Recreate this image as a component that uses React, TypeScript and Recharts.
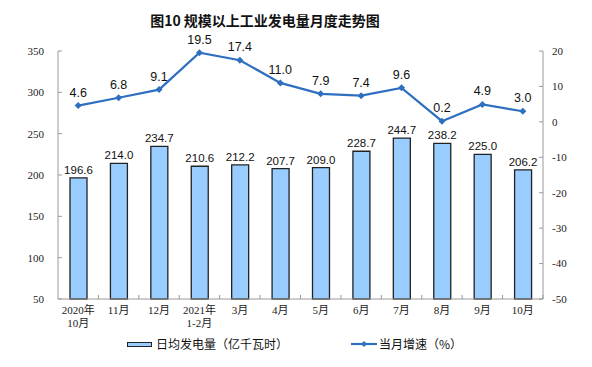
import React from "react";
import {
  ComposedChart,
  Bar,
  Line,
  XAxis,
  YAxis,
  LabelList,
} from "recharts";

const MONTHS = [
  "2020年|10月",
  "11月",
  "12月",
  "2021年|1-2月",
  "3月",
  "4月",
  "5月",
  "6月",
  "7月",
  "8月",
  "9月",
  "10月",
];
const DAILY_OUTPUT = [196.6, 214.0, 234.7, 210.6, 212.2, 207.7, 209.0, 228.7, 244.7, 238.2, 225.0, 206.2];
const GROWTH = [4.6, 6.8, 9.1, 19.5, 17.4, 11.0, 7.9, 7.4, 9.6, 0.2, 4.9, 3.0];
const LEFT_TICKS = [50, 100, 150, 200, 250, 300, 350];
const RIGHT_TICKS = [-50, -40, -30, -20, -10, 0, 10, 20];

const BAR_LABEL = "日均发电量（亿千瓦时）";
const LINE_LABEL = "当月增速（%）";
const TITLE = "图10 规模以上工业发电量月度走势图";

const AXIS_COLOR = "#9a9a9a";
const LINE_COLOR = "#2f6fbf";
const BAR_FILL = "#99ccff";
const SERIF = "'Liberation Serif', 'Noto Sans CJK SC', serif";
const SANS = "'Liberation Sans', Arial, sans-serif";
const CJK = "'Noto Sans CJK SC', sans-serif";

const data = MONTHS.map((m, i) => ({ month: m, output: DAILY_OUTPUT[i], growth: GROWTH[i] }));

function MonthTick(props: any) {
  const { x, y, payload, width, visibleTicksCount } = props;
  const lines = String(payload.value).split("|");
  const half = width / visibleTicksCount / 2;
  return (
    <g>
      <line x1={x + half} x2={x + half} y1={299} y2={295} stroke={AXIS_COLOR} />
      {lines.map((t, i) => (
        <text
          key={i}
          x={x}
          y={y + 7 + i * 13}
          textAnchor="middle"
          fontSize={11}
          fontFamily={SERIF}
          fill="#222"
        >
          {t}
        </text>
      ))}
    </g>
  );
}

function Diamond(props: any) {
  const { cx, cy } = props;
  if (cx == null || cy == null) return null;
  const r = 3.5;
  return (
    <polygon
      points={`${cx},${cy - r} ${cx + r},${cy} ${cx},${cy + r} ${cx - r},${cy}`}
      fill={LINE_COLOR}
    />
  );
}

export default function App() {
  return (
    <div style={{ position: "absolute", left: 0, top: 0, width: 592, height: 367, background: "#fff" }}>
      <div
        style={{
          position: "absolute",
          left: 0,
          width: 530,
          top: 10,
          textAlign: "center",
          fontFamily: CJK,
          fontSize: 14,
          fontWeight: 700,
          color: "#111",
          whiteSpace: "pre",
        }}
      >
        {TITLE}
      </div>
      <ComposedChart
        width={592}
        height={367}
        data={data}
        margin={{ top: 51, right: 0, left: 8, bottom: 28 }}
      >
        <XAxis
          dataKey="month"
          stroke={AXIS_COLOR}
          tickLine={false}
          interval={0}
          height={40}
          tick={<MonthTick />}
        />
        <YAxis
          yAxisId="left"
          width={50}
          domain={[50, 350]}
          ticks={LEFT_TICKS}
          interval={0}
          stroke={AXIS_COLOR}
          tickSize={-4}
          tickMargin={18}
          tick={{ fill: "#222", fontSize: 11, fontFamily: SERIF }}
        />
        <YAxis
          yAxisId="right"
          orientation="right"
          width={49}
          domain={[-50, 20]}
          ticks={RIGHT_TICKS}
          interval={0}
          stroke={AXIS_COLOR}
          tickSize={-4}
          tickMargin={13}
          tick={{ fill: "#222", fontSize: 11, fontFamily: SERIF }}
        />
        <Bar
          yAxisId="left"
          dataKey="output"
          fill={BAR_FILL}
          stroke="#222"
          strokeWidth={1.3}
          barSize={17}
          isAnimationActive={false}
        >
          <LabelList
            dataKey="output"
            position="top"
            offset={4}
            formatter={(v: any) => Number(v).toFixed(1)}
            style={{ fill: "#111", fontSize: 11.5, fontFamily: SANS }}
          />
        </Bar>
        <Line
          yAxisId="right"
          dataKey="growth"
          stroke={LINE_COLOR}
          strokeWidth={2.2}
          dot={<Diamond />}
          activeDot={false}
          isAnimationActive={false}
        >
          <LabelList
            dataKey="growth"
            position="top"
            offset={9}
            formatter={(v: any) => Number(v).toFixed(1)}
            style={{ fill: "#111", fontSize: 12.5, fontFamily: SANS }}
          />
        </Line>
      </ComposedChart>
      <div
        style={{
          position: "absolute",
          top: 335,
          left: 127,
          height: 18,
          display: "flex",
          alignItems: "center",
          fontFamily: CJK,
          fontSize: 12,
          lineHeight: "18px",
          color: "#111",
          whiteSpace: "pre",
        }}
      >
        <span
          style={{
            display: "inline-block",
            width: 23,
            height: 3,
            background: BAR_FILL,
            border: "1.5px solid #222",
            marginRight: 4,
          }}
        />
        <span style={{ width: 195 }}>{BAR_LABEL}</span>
        <svg width={26} height={8} style={{ marginRight: 2 }}>
          <line x1={0} x2={26} y1={4} y2={4} stroke={LINE_COLOR} strokeWidth={2.2} />
          <polygon points="13,1 16,4 13,7 10,4" fill={LINE_COLOR} />
        </svg>
        <span>{LINE_LABEL}</span>
      </div>
    </div>
  );
}
